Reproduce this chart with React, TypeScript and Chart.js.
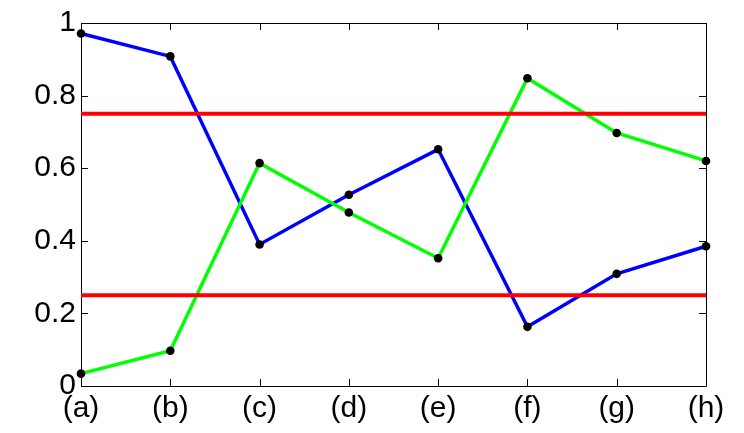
import React, { useEffect, useRef } from "react";
import { Chart, registerables } from "chart.js";

Chart.register(...registerables);

const categories = ["(a)", "(b)", "(c)", "(d)", "(e)", "(f)", "(g)", "(h)"];
const blueValues = [0.971, 0.908, 0.39, 0.527, 0.652, 0.163, 0.309, 0.385];
const greenValues = [0.034, 0.097, 0.614, 0.478, 0.352, 0.848, 0.697, 0.62];
const upperThreshold = 0.75;
const lowerThreshold = 0.25;
const yTickValues = [0, 0.2, 0.4, 0.6, 0.8, 1];

const FONT = "'Liberation Sans', Arial, sans-serif";

const boxTicksPlugin = {
  id: "boxTicks",
  beforeDatasetsDraw(chart: any) {
    const { ctx, chartArea } = chart;
    const xs = chart.scales.x;
    const ys = chart.scales.y;
    const len = 7;
    ctx.save();
    ctx.strokeStyle = "#000";
    ctx.lineWidth = 1;
    ctx.beginPath();
    ctx.rect(
      Math.round(chartArea.left) + 0.5,
      Math.round(chartArea.top) + 0.5,
      Math.round(chartArea.right) - Math.round(chartArea.left),
      Math.round(chartArea.bottom) - Math.round(chartArea.top)
    );
    xs.ticks.forEach((_: any, i: number) => {
      const px = Math.round(xs.getPixelForTick(i)) + 0.5;
      ctx.moveTo(px, chartArea.bottom);
      ctx.lineTo(px, chartArea.bottom - len);
      ctx.moveTo(px, chartArea.top);
      ctx.lineTo(px, chartArea.top + len);
    });
    ys.ticks.forEach((_: any, i: number) => {
      const py = Math.round(ys.getPixelForTick(i)) + 0.5;
      ctx.moveTo(chartArea.left, py);
      ctx.lineTo(chartArea.left + len, py);
      ctx.moveTo(chartArea.right, py);
      ctx.lineTo(chartArea.right - len, py);
    });
    ctx.stroke();
    ctx.restore();
  },
};

export default function App() {
  const ref = useRef<HTMLCanvasElement>(null);
  useEffect(() => {
    if (!ref.current) return;
    const upper = categories.map(() => upperThreshold);
    const lower = categories.map(() => lowerThreshold);
    const chart = new Chart(ref.current, {
      type: "line",
      data: {
        labels: categories,
        datasets: [
          {
            data: upper,
            borderColor: "#ff0000",
            borderWidth: 4,
            pointRadius: 0,
            order: 0,
            clip: false,
          },
          {
            data: lower,
            borderColor: "#ff0000",
            borderWidth: 4,
            pointRadius: 0,
            order: 0,
            clip: false,
          },
          {
            data: greenValues,
            borderColor: "#00ff00",
            borderWidth: 3.5,
            pointRadius: 4.3,
            pointBackgroundColor: "#000",
            pointBorderWidth: 0,
            pointStyle: "circle",
            order: 1,
            clip: false,
          },
          {
            data: blueValues,
            borderColor: "#0000ff",
            borderWidth: 3.5,
            pointRadius: 4.3,
            pointBackgroundColor: "#000",
            pointBorderWidth: 0,
            pointStyle: "circle",
            order: 2,
            clip: false,
          },
        ] as any,
      },
      options: {
        animation: false,
        responsive: false,
        devicePixelRatio: 1,
        layout: { padding: { top: 21, right: 38, left: 0, bottom: 0 } },
        plugins: {
          legend: { display: false },
          tooltip: { enabled: false },
        },
        elements: { line: { tension: 0 } },
        scales: {
          x: {
            type: "category",
            offset: false,
            grid: { display: false, drawTicks: false },
            border: { display: false },
            ticks: {
              autoSkip: false,
              maxRotation: 0,
              padding: 5,
              color: "#000",
              font: { family: FONT, size: 30 },
            },
            afterFit: (scale: any) => {
              scale.height = 47;
            },
          },
          y: {
            min: 0,
            max: 1,
            afterBuildTicks: (scale: any) => {
              scale.ticks = yTickValues.map((v) => ({ value: v }));
            },
            grid: { display: false, drawTicks: false },
            border: { display: false },
            ticks: {
              padding: 5,
              color: "#000",
              font: { family: FONT, size: 30 },
              callback: (v: any) => String(Number(Number(v).toFixed(1))),
            },
            afterFit: (scale: any) => {
              scale.width = 81;
            },
          },
        },
      },
      plugins: [boxTicksPlugin],
    });
    return () => chart.destroy();
  }, []);
  return (
    <div style={{ position: "fixed", left: 0, top: 0, width: 744, height: 433, background: "#fff" }}>
      <canvas ref={ref} width={744} height={433} />
    </div>
  );
}
